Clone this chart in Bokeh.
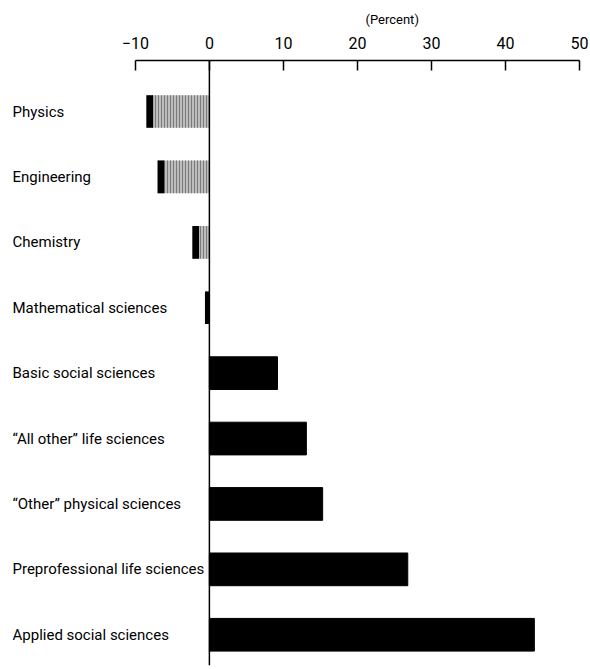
from bokeh.plotting import figure
from bokeh.models import (ColumnDataSource, Range1d, FixedTicker, Span, Title)
from bokeh.core.properties import value
from bokeh.embed import file_html
from bokeh.resources import INLINE

categories = ["Physics", "Engineering", "Chemistry", "Mathematical sciences",
              "Basic social sciences", "\u201cAll other\u201d life sciences",
              "\u201cOther\u201d physical sciences", "Preprofessional life sciences",
              "Applied social sciences"]
values = [-8.5, -7.0, -2.3, -0.6, 9.2, 13.1, 15.3, 26.8, 43.9]
tick_values = [-10, 0, 10, 20, 30, 40, 50]
tick_labels = ["\u221210", "0", "10", "20", "30", "40", "50"]
axis_title = "(Percent)"

FONT = "Roboto"
n = len(categories)
ypos = list(range(n))
neg = [v < 0 for v in values]

x_start = -26.6  # room on the left for the category labels
p = figure(width=590, height=667, output_backend="svg", toolbar_location=None,
           x_range=Range1d(x_start, tick_values[-1]),
           y_range=Range1d(start=n - 1 + 0.47, end=-0.78),
           x_axis_location="above", min_border_left=12, min_border_right=11,
           min_border_top=60, min_border_bottom=2)
p.outline_line_color = None
p.xgrid.visible = False
p.ygrid.visible = False
p.yaxis.visible = False
p.background_fill_color = "white"

ax = p.xaxis[0]
ax.bounds = (tick_values[0], tick_values[-1])
ax.ticker = FixedTicker(ticks=tick_values)
ax.major_label_overrides = {t: l for t, l in zip(tick_values, tick_labels)}
ax.major_tick_in = 10
ax.major_tick_out = 0
ax.minor_tick_line_color = None
ax.axis_line_width = 1.5
ax.major_tick_line_width = 1.5
ax.major_label_standoff = 12
ax.major_label_text_font = FONT
ax.major_label_text_font_size = "16px"
ax.major_label_text_color = "black"

t = Title(text=axis_title, align="left", offset=353, text_font=FONT,
          text_font_size="13px", text_font_style="normal", text_color="black",
          standoff=14)
p.add_layout(t, "above")

# positive bars (solid black)
pos_src = ColumnDataSource(dict(
    y=[y for y, m in zip(ypos, neg) if not m],
    right=[v for v, m in zip(values, neg) if not m]))
p.hbar(y="y", left=0, right="right", height=0.5, source=pos_src,
       fill_color="black", line_color="black")

# negative bars (grey stippled with dark leading edge)
neg_vals = [v for v, m in zip(values, neg) if m]
neg_src = ColumnDataSource(dict(
    y=[y for y, m in zip(ypos, neg) if m],
    left=neg_vals,
    edge=[min(v + 0.9, 0) for v in neg_vals]))
p.hbar(y="y", left="left", right=0, height=0.5, source=neg_src,
       fill_color="#bdbdbd", hatch_pattern="vertical_line", hatch_color="#7a7a7a",
       hatch_scale=3, hatch_weight=1, line_color=None)
p.hbar(y="y", left="left", right="edge", height=0.5, source=neg_src,
       fill_color="black", line_color=None)

p.add_layout(Span(location=0, dimension="height", line_color="black", line_width=1.5))

lab_src = ColumnDataSource(dict(y=ypos, text=categories, x=[x_start] * n))
p.text(x="x", y="y", text="text", source=lab_src, text_align="left",
       text_baseline="middle", text_font=value(FONT), text_font_size="15px",
       text_color="black")

open("out.html", "w").write(file_html(p, INLINE))
